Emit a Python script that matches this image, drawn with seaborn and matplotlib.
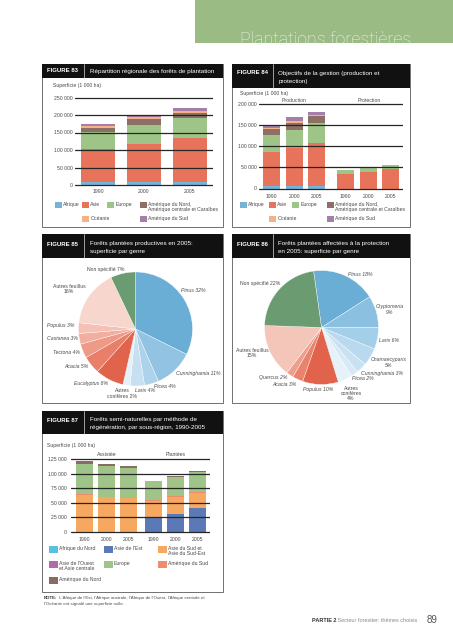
import numpy as np
import pandas as pd
import matplotlib
matplotlib.use("Agg")
import matplotlib.pyplot as plt
from matplotlib.patches import Rectangle
import seaborn as sns

# ---------------- data ----------------
years = ["1990", "2000", "2005"]

# Figure 83 (1 000 ha)
afrique83 = [9500, 9500, 9500]
asie83 = [92500, 108500, 124000]
europe83 = [49500, 53500, 59000]
amnord83 = [12500, 16000, 12500]
oceanie83 = [3500, 5500, 6500]
amsud83 = [8000, 7000, 7500]

# Figure 84 (production 1990-2005, protection 1990-2005)
groups84 = ["Production", "Protection"]
afrique84 = [7000, 7000, 7000, 0, 0, 0]
asie84 = [80000, 89000, 100000, 34500, 40000, 45500]
europe84 = [40000, 41500, 48000, 9500, 10500, 10500]
amnord84 = [13000, 18500, 17500, 0, 0, 0]
oceanie84 = [2500, 4000, 1500, 0, 0, 0]
amsud84 = [6000, 9500, 8000, 0, 0, 0]

# Figure 85
genres85 = ["Pinus", "Cunninghamia", "Picea", "Larix", "Autres conifères",
            "Eucalyptus", "Acacia", "Tectona", "Castanea", "Populus",
            "Autres feuillus", "Non spécifié"]
pct85 = [32, 11, 4, 4, 2, 8, 5, 4, 3, 3, 16, 7]

# Figure 86
genres86 = ["Pinus", "Cryptomeria", "Larix", "Chamaecyparis", "Cunninghamia",
            "Picea", "Autres conifères", "Populus", "Acacia", "Quercus",
            "Autres feuillus", "Non spécifié"]
pct86 = [18, 9, 6, 5, 3, 2, 4, 10, 3, 2, 15, 22]

# Figure 87 (assistée 1990-2005, plantées 1990-2005)
groups87 = ["Assistée", "Plantées"]
afnord87 = [0, 0, 0, 0, 0, 0]
asieest87 = [0, 0, 0, 24000, 30500, 41500]
asiesud87 = [63500, 59500, 57500, 29000, 29500, 25500]
asieouest87 = [0, 0, 0, 0, 0, 0]
amsud87 = [1000, 1000, 1000, 1000, 1200, 1500]
europe87 = [52000, 52000, 50500, 32500, 33500, 33500]
amnord87 = [4500, 4500, 4500, 1000, 600, 2000]

# ---------------- style ----------------
sns.set_theme(style="white")
plt.rcParams['font.family'] = ['Liberation Sans', 'DejaVu Sans']

W, H = 453, 640
fig = plt.figure(figsize=(W / 100, H / 100), dpi=100)
fig.patch.set_facecolor("white")

ov = fig.add_axes([0, 0, 1, 1])
ov.set_xlim(0, W)
ov.set_ylim(H, 0)
ov.axis("off")

FS = 3.7
TXT = "#4a4a4a"

c_afrique = "#75b4d8"
c_asie = "#e8735b"
c_europe = "#9fc487"
c_amnord = "#8e6f66"
c_oceanie = "#f4b286"
c_amsud = "#a57ea9"

c_afnord = "#5cbfe0"
c_asieest = "#5a79b6"
c_asiesud = "#f6a860"
c_asieouest = "#b16aaa"
c_amsud87 = "#f08c6e"
c_amnord87 = "#8a6a62"


def px_axes(x0, y0, x1, y1):
    a = fig.add_axes([x0 / W, 1 - y1 / H, (x1 - x0) / W, (y1 - y0) / H])
    a.set_facecolor("none")
    return a


def fig_box(x0, y0, x1, y1, hb, num, lines, sep_x, ly):
    ov.add_patch(Rectangle((x0, y0), x1 - x0, y1 - y0, fc="white", ec="#707070", lw=0.7))
    ov.add_patch(Rectangle((x0, y0), x1 - x0, hb, fc="#111111", ec="none"))
    ov.plot([sep_x, sep_x], [y0, y0 + hb], color="#d8d8d8", lw=0.5)
    ov.text(x0 + 5, ly[0], f"FIGURE {num}", color="white", fontsize=4.3,
            fontweight="bold", va="center", ha="left")
    for t, yy in zip(lines, ly):
        ov.text(sep_x + 5.5, yy, t, color="white", fontsize=4.5, va="center", ha="left")


# header band
ov.add_patch(Rectangle((195, 0), W - 195, 43, fc="#9bbb85", ec="none"))
ov.text(240, 45, "Plantations forestières", fontsize=12.8, family="Roboto",
        fontweight="light", color="#eef4ea", va="baseline", ha="left")

# boxes
fig_box(42, 64, 223, 227, 14, 83, ["Répartition régionale des forêts de plantation"], 84, [71])
fig_box(232, 64, 410, 227, 24, 84, ["Objectifs de la gestion (production et", "protection)"], 273, [73, 82])
fig_box(42, 234, 223, 403, 24, 85, ["Forêts plantées productives en 2005:", "superficie par genre"], 84, [244, 252])
fig_box(232, 234, 410, 403, 24, 86, ["Forêts plantées affectées à la protection", "en 2005: superficie par genre"], 273, [244, 252])
fig_box(42, 411, 223, 592, 23, 87, ["Forêts semi-naturelles par méthode de", "régénération, par sous-région, 1990-2005"], 84, [420, 428])


def fmt(v):
    return "0" if v == 0 else f"{v:,}".replace(",", " ")


def stacked(ax, pos, layers, colors, width):
    cum = np.cumsum(np.array(layers, dtype=float), axis=0)
    for i in range(len(layers) - 1, -1, -1):
        df = pd.DataFrame({"x": pos, "y": cum[i]})
        sns.barplot(data=df, x="x", y="y", native_scale=True, width=width,
                    color=colors[i], saturation=1, errorbar=None, ax=ax,
                    linewidth=0)


def bar_axes(x0, x1, y_zero, y_top, vmax, step, xlim, pos, labels, layers, colors, width, ypad, xpad):
    pad = 3
    k = (y_zero - y_top) / vmax
    ax = px_axes(x0, y_top - pad, x1, y_zero + pad)
    stacked(ax, pos, layers, colors, width)
    ax.set_ylim(-pad / k, vmax + pad / k)
    ax.set_xlim(*xlim)
    lev = list(range(0, vmax + 1, step))
    ax.set_yticks(lev, labels=[fmt(v) for v in lev])
    ax.set_xticks(pos, labels=labels)
    ax.tick_params(axis="y", length=0, pad=ypad, labelsize=FS, labelcolor=TXT)
    ax.tick_params(axis="x", length=0, pad=xpad, labelsize=FS, labelcolor=TXT)
    ax.grid(axis="y", color="#262626", lw=0.9)
    ax.grid(axis="x", visible=False)
    ax.set_axisbelow(False)
    ax.set(xlabel="", ylabel="")
    for s in ax.spines.values():
        s.set_visible(False)
    return ax


# ---------- Figure 83 ----------
ov.text(53, 85, "Superficie (1 000 ha)", fontsize=FS, color=TXT, va="center")
bar_axes(75, 213, 185, 97.5, 250000, 50000, (-0.5, 2.5), [0, 1, 2], years,
         [afrique83, asie83, europe83, amnord83, oceanie83, amsud83],
         [c_afrique, c_asie, c_europe, c_amnord, c_oceanie, c_amsud], 0.72, 1.5, 0.8)

leg_cols = [c_afrique, c_asie, c_europe, c_amnord, c_oceanie, c_amsud]
leg_names = ["Afrique", "Asie", "Europe", "Amérique du Nord,\nAmérique centrale et Caraïbes",
             "Océanie", "Amérique du Sud"]


def legend(items, size=(6.5, 6), gap=1.8, fs=FS):
    for (name, col, x, y) in items:
        ov.add_patch(Rectangle((x, y - size[1] / 2), size[0], size[1], fc=col, ec="none"))
        ov.text(x + size[0] + gap, y - 2.9, name, fontsize=fs, color=TXT, va="top",
                ha="left", linespacing=1.0)


legend([(leg_names[0], leg_cols[0], 55, 205), (leg_names[1], leg_cols[1], 82, 205),
        (leg_names[2], leg_cols[2], 107, 205), (leg_names[3], leg_cols[3], 140, 205),
        (leg_names[4], leg_cols[4], 82, 219), (leg_names[5], leg_cols[5], 140, 219)])

# ---------- Figure 84 ----------
ov.text(240, 93, "Superficie (1 000 ha)", fontsize=FS, color=TXT, va="center")
ov.text(294, 100, groups84[0], fontsize=FS, color=TXT, va="center", ha="center")
ov.text(369.5, 100, groups84[1], fontsize=FS, color=TXT, va="center", ha="center")
pos84 = [0, 1, 2, 3.3, 4.3, 5.3]
bar_axes(259, 403, 188.5, 104, 200000, 50000, (-0.56, 5.84), pos84, years + years,
         [afrique84, asie84, europe84, amnord84, oceanie84, amsud84],
         [c_afrique, c_asie, c_europe, c_amnord, c_oceanie, c_amsud], 0.75, 1.5, 1.5)
legend([(leg_names[0], leg_cols[0], 240, 205), (leg_names[1], leg_cols[1], 269, 205),
        (leg_names[2], leg_cols[2], 292, 205), (leg_names[3], leg_cols[3], 327, 205),
        (leg_names[4], leg_cols[4], 269, 219), (leg_names[5], leg_cols[5], 327, 219)])

# ---------- Figure 85 (pie) ----------
cols85 = ["#6aaed6", "#92c3e2", "#add3eb", "#c6e0f1", "#e4f1f9",
          "#e2634c", "#e97f68", "#ee9a87", "#f2ae9f", "#f5c1b5", "#f7d6cd", "#6b9b71"]
axp = px_axes(78.5, 272, 192.5, 386)
axp.pie(pct85, colors=cols85, startangle=90, counterclock=False,
        wedgeprops=dict(linewidth=0.25, edgecolor="white"))
axp.set_xlim(-1, 1)
axp.set_ylim(-1, 1)
axp.axis("off")

lab85 = [
    ("Non spécifié 7%", 106, 269, "normal"),
    ("Pinus 32%", 193, 290, "italic"),
    ("Autres feuillus\n16%", 69, 289, "normal"),
    ("Populus 3%", 61, 326, "italic"),
    ("Castanea 3%", 62, 339, "italic"),
    ("Tectona 4%", 66.5, 353, "italic"),
    ("Acacia 5%", 76.5, 367, "italic"),
    ("Eucalyptus 8%", 90.5, 383, "italic"),
    ("Autres\nconifères 2%", 122, 393.5, "normal"),
    ("Larix 4%", 145, 390, "italic"),
    ("Picea 4%", 165, 386, "italic"),
    ("Cunninghamia 11%", 198.5, 373, "italic"),
]
for t, x, y, st in lab85:
    ov.text(x, y, t, fontsize=FS, color=TXT, ha="center", va="center", style=st, linespacing=1.1)

# ---------- Figure 86 (pie) ----------
cols86 = ["#6aaed6", "#8cc0e0", "#a4cfe9", "#b8d9ee", "#c8e2f2", "#d6e9f5", "#e6f2fa",
          "#e2634c", "#e8836e", "#ef9e8c", "#f4c6ba", "#6b9b71"]
axq = px_axes(264.5, 270.5, 378.5, 384.5)
axq.pie(pct86, colors=cols86, startangle=98, counterclock=False,
        wedgeprops=dict(linewidth=0.25, edgecolor="white"))
axq.set_xlim(-1, 1)
axq.set_ylim(-1, 1)
axq.axis("off")

lab86 = [
    ("Pinus 18%", 360, 274, "italic"),
    ("Cryptomeria\n9%", 390, 309.5, "italic"),
    ("Larix 6%", 389, 341, "italic"),
    ("Chamaecyparis\n5%", 389, 362.5, "italic"),
    ("Cunninghamia 3%", 382, 373, "italic"),
    ("Picea 2%", 363, 379, "italic"),
    ("Autres\nconifères\n4%", 351, 393.5, "normal"),
    ("Populus 10%", 318, 389, "italic"),
    ("Quercus 2%", 273, 378, "italic"),
    ("Acacia 3%", 284.5, 384, "italic"),
    ("Autres feuillus\n15%", 252, 353, "normal"),
    ("Non spécifié 22%", 260, 283, "normal"),
]
for t, x, y, st in lab86:
    ov.text(x, y, t, fontsize=FS, color=TXT, ha="center", va="center", style=st, linespacing=1.1)

# ---------- Figure 87 ----------
ov.text(47, 445, "Superficie (1 000 ha)", fontsize=FS, color=TXT, va="center")
ov.text(106.5, 454, groups87[0], fontsize=FS, color=TXT, va="center", ha="center")
ov.text(175.5, 454, groups87[1], fontsize=FS, color=TXT, va="center", ha="center")
pos87 = [0, 1, 2, 3.15, 4.15, 5.15]
bar_axes(71, 210, 532, 459, 125000, 25000, (-0.61, 5.7), pos87, years + years,
         [afnord87, asieest87, asiesud87, asieouest87, amsud87, europe87, amnord87],
         [c_afnord, c_asieest, c_asiesud, c_asieouest, c_amsud87, c_europe, c_amnord87],
         0.77, 3, 1.5)
legend([("Afrique du Nord", c_afnord, 49, 549), ("Asie de l'Est", c_asieest, 104, 549),
        ("Asie du Sud et\nAsie du Sud-Est", c_asiesud, 158, 549),
        ("Asie de l'Ouest\net Asie centrale", c_asieouest, 49, 564),
        ("Europe", c_europe, 104, 564), ("Amérique du Sud", c_amsud87, 158, 564),
        ("Amérique du Nord", c_amnord87, 49, 580)], size=(8.5, 7), gap=1.5)

# note
t1 = ov.text(44, 598, "NOTE:", fontsize=3.2, color="#333333", fontweight="bold", va="center")
ov.annotate(" L'Afrique de l'Est, l'Afrique australe, l'Afrique de l'Ouest, l'Afrique centrale et",
            xy=(1, 0.5), xycoords=t1, va="center", ha="left", fontsize=3.2, color=TXT)
ov.text(44, 603.5, "l'Océanie ont signalé une superficie nulle.", fontsize=3.2, color=TXT, va="center")

# footer
t2 = ov.text(312, 620, "PARTIE 2", fontsize=4.0, color="#333333", fontweight="bold", va="center")
ov.annotate(" Secteur forestier: thèmes choisis", xy=(1, 0.5), xycoords=t2, va="center",
            ha="left", fontsize=4.0, color="#8a8a8a")
ov.text(432, 620, "89", fontsize=7, color="#555555", va="center", ha="center")

fig.savefig("out.png", dpi=100, facecolor="white")
